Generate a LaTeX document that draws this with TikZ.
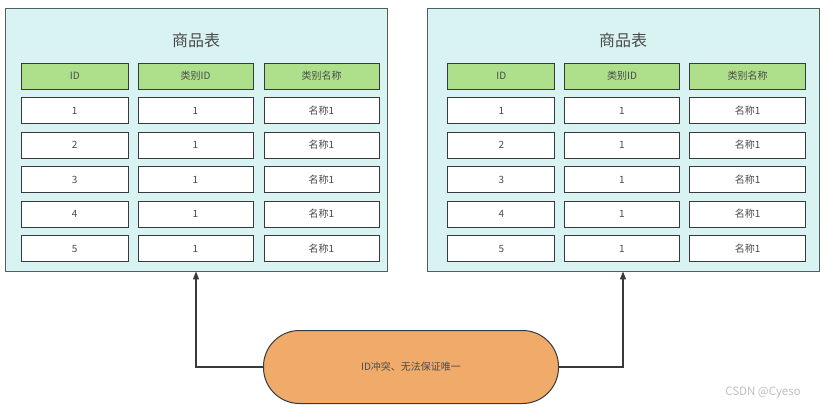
\documentclass[tikz,border=0pt]{standalone}
\usepackage{fontspec}
\setmainfont{Noto Sans CJK SC}
\usepackage{tikz}
\usetikzlibrary{arrows.meta}

\definecolor{panelbg}{HTML}{D9F3F3}
\definecolor{panelline}{HTML}{4F5E5E}
\definecolor{cellline}{HTML}{36393D}
\definecolor{headgreen}{HTML}{AEE08C}
\definecolor{conforange}{HTML}{F0AA6A}
\definecolor{inktext}{HTML}{4A4A4A}

\begin{document}
\begin{tikzpicture}[x=1pt,y=-1pt,
  panel/.style={draw=panelline,fill=panelbg,line width=0.9pt,minimum height=263pt,inner sep=0pt},
  cell/.style={draw=cellline,fill=white,line width=1pt,minimum height=26pt,inner sep=0pt,text=inktext,font=\fontsize{10}{12}\selectfont},
  head/.style={cell,fill=headgreen},
  title/.style={text=inktext,font=\fontsize{16}{18}\selectfont},
  conflict/.style={draw=cellline,fill=conforange,line width=1pt,rounded corners=36pt,minimum width=295pt,minimum height=73pt,text=inktext,font=\fontsize{10}{12}\selectfont},
  link/.style={draw=cellline,line width=1.1pt,-{Triangle[length=8pt,width=6pt]}}]
\useasboundingbox (0,0) rectangle (828,410);
\node[panel,minimum width=382pt] (lp) at (196,139.5) {};
\node[panel,minimum width=392pt] (rp) at (623,139.5) {};
\node[title] (l-title) at (196,40) {商品表};
\node[title] (r-title) at (623,40) {商品表};
\foreach \p/\a/\b/\c/\wa/\wc in {l/74.75/195.5/321.5/106.5/115, r/501.3/622/747.7/106.7/116} {
  \node[head,minimum width=\wa pt] (\p-h1) at (\a,76) {ID};
  \node[head,minimum width=115pt] (\p-h2) at (\b,76) {类别ID};
  \node[head,minimum width=\wc pt] (\p-h3) at (\c,76) {类别名称};
  \foreach \i in {1,...,5} {
    \node[cell,minimum width=\wa pt] (\p-\i-1) at (\a,{76+34.5*\i}) {\i};
    \node[cell,minimum width=115pt] (\p-\i-2) at (\b,{76+34.5*\i}) {1};
    \node[cell,minimum width=\wc pt] (\p-\i-3) at (\c,{76+34.5*\i}) {名称1};
  }
}
\node[conflict] (clash) at (411,367) {ID冲突、无法保证唯一};
\draw[link] (clash.west) -| (lp.south);
\draw[link] (clash.east) -| (rp.south);
\node[text=black!25,font=\fontsize{11.5}{13}\selectfont] (mark) at (763,393) {CSDN @Cyeso};
\end{tikzpicture}
\end{document}
